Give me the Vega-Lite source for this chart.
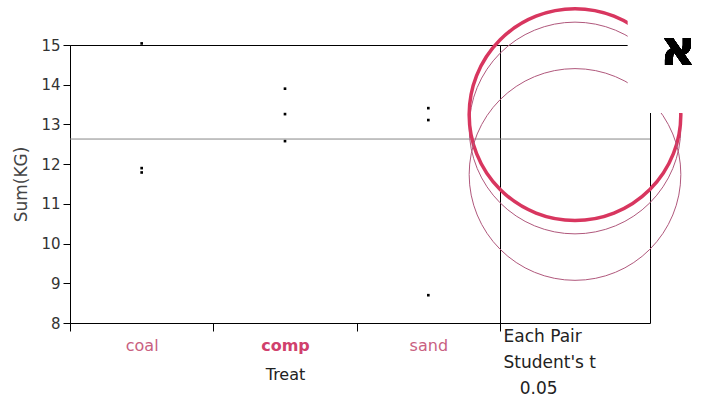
{
  "$schema": "https://vega.github.io/schema/vega-lite/v6.json",
  "background": "white",
  "padding": {"left": 12, "top": 0, "right": 0, "bottom": 0},
  "spacing": 0,
  "bounds": "flush",
  "config": {
    "view": {"stroke": "#000", "strokeWidth": 1},
    "font": "DejaVu Sans",
    "axisY": {
      "values": [8, 9, 10, 11, 12, 13, 14, 15],
      "labelOverlap": false,
      "labelFlush": false,
      "grid": false,
      "tickSize": 7,
      "tickColor": "#000",
      "domainColor": "#000",
      "labelPadding": 3,
      "labelFontSize": 15,
      "labelColor": "#333",
      "titleFontSize": 17,
      "titleFontWeight": "normal",
      "titleColor": "#444",
      "titlePadding": 10
    }
  },
  "datasets": {
    "pts": [
      {"Treat": "coal", "Sum": 15.04},
      {"Treat": "coal", "Sum": 11.9},
      {"Treat": "coal", "Sum": 11.79},
      {"Treat": "comp", "Sum": 13.9},
      {"Treat": "comp", "Sum": 13.26},
      {"Treat": "comp", "Sum": 12.58},
      {"Treat": "sand", "Sum": 13.41},
      {"Treat": "sand", "Sum": 13.11},
      {"Treat": "sand", "Sum": 8.7}
    ]
  },
  "resolve": {"scale": {"x": "independent"}},
  "hconcat": [
    {
      "width": 430,
      "height": 278,
      "data": {"name": "pts"},
      "layer": [
        {
          "mark": {"type": "point", "shape": "square", "filled": true, "size": 7, "color": "#000", "opacity": 1},
          "encoding": {
            "x": {
              "field": "Treat", "type": "nominal",
              "scale": {"type": "band", "paddingInner": 0, "paddingOuter": 0},
              "axis": {
                "title": "Treat",
                "labelAngle": 0,
                "tickBand": "extent",
                "tickSize": 8,
                "tickColor": "#000",
                "domainColor": "#000",
                "labelPadding": 6,
                "labelFontSize": 16,
                "labelColor": {"condition": {"test": "datum.value === 'comp'", "value": "#d0406c"}, "value": "#c9607f"},
                "labelFontWeight": {"condition": {"test": "datum.value === 'comp'", "value": "bold"}, "value": "normal"},
                "titleFontSize": 16,
                "titleFontWeight": "normal",
                "titleColor": "#222",
                "titlePadding": 13
              }
            },
            "y": {
              "field": "Sum", "type": "quantitative",
              "scale": {"domain": [8, 15], "zero": false, "nice": false},
              "axis": {"title": "Sum(KG)", "values": [8, 9, 10, 11, 12, 13, 14, 15]}
            }
          }
        },
        {
          "mark": {"type": "rule", "color": "#888", "strokeWidth": 1},
          "encoding": {
            "y": {"aggregate": "mean", "field": "Sum", "type": "quantitative",
              "axis": {"title": "Sum(KG)", "values": [8, 9, 10, 11, 12, 13, 14, 15]}}
          }
        }
      ]
    },
    {
      "width": 150,
      "height": 278,
      "data": {"name": "pts"},
      "layer": [
        {
          "mark": {"type": "rule", "color": "#888", "strokeWidth": 1},
          "encoding": {
            "y": {"aggregate": "mean", "field": "Sum", "type": "quantitative", "scale": {"domain": [8, 15], "zero": false, "nice": false}, "axis": null}
          }
        },
        {
          "transform": [{"aggregate": [{"op": "mean", "field": "Sum", "as": "Mean"}], "groupby": ["Treat"]}],
          "mark": {"type": "point", "shape": "circle", "filled": false, "size": 44800, "opacity": 1},
          "encoding": {
            "y": {"field": "Mean", "type": "quantitative", "scale": {"domain": [8, 15], "zero": false, "nice": false}, "axis": null},
            "stroke": {"field": "Treat", "type": "nominal", "scale": {"type": "ordinal", "domain": ["coal", "comp", "sand"], "range": ["#b0587c", "#d8365f", "#b0587c"]}, "legend": null},
            "strokeWidth": {"field": "Treat", "type": "nominal", "scale": {"type": "ordinal", "domain": ["coal", "comp", "sand"], "range": [1, 3.5, 1]}, "legend": null}
          }
        },
        {
          "mark": {"type": "rect", "fill": "white", "stroke": null},
          "encoding": {
            "x": {"datum": 0.853, "type": "quantitative", "scale": {"domain": [0, 1], "nice": false, "zero": false},
              "axis": {
                "title": ["Each Pair", "Student's t", "\u200b\u00a0\u00a0\u00a00.05"],
                "labels": false, "ticks": false, "domain": false, "grid": false,
                "titleAnchor": "start", "titleAlign": "left", "titleBaseline": "top",
                "titleFontSize": 17, "titleFontWeight": "normal", "titleColor": "#222",
                "titleLineHeight": 26, "titlePadding": 5, "titleX": 3
              }
            },
            "x2": {"datum": 1.347},
            "y": {"datum": 13.3, "type": "quantitative"},
            "y2": {"datum": 16.11}
          }
        },
        {
          "mark": {"type": "text", "text": "א", "fontSize": 50, "fontWeight": "bold", "color": "#000", "align": "center", "baseline": "middle"},
          "encoding": {
            "x": {"datum": 1.187, "type": "quantitative"},
            "y": {"datum": 14.87, "type": "quantitative"}
          }
        }
      ]
    }
  ]
}
